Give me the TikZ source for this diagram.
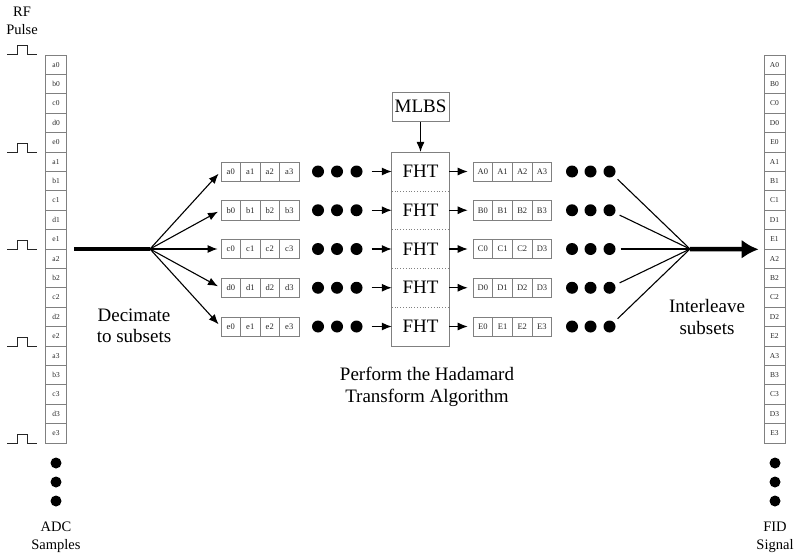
\documentclass[tikz,border=0pt]{standalone}
\usepackage{fontspec}
\setmainfont{Liberation Serif}
\usetikzlibrary{arrows.meta}
\begin{document}
\begin{tikzpicture}[x=1pt,y=-1pt,
  cell/.style={draw=black!50, line width=0.7pt, minimum width=21pt, minimum height=19.4pt, inner sep=0pt, text=black!85, font=\fontsize{7.5}{8}\selectfont},
  rcell/.style={draw=black!50, line width=0.7pt, minimum width=19.6pt, minimum height=19.2pt, inner sep=0pt, text=black!85, font=\fontsize{8.5}{9}\selectfont},
  lbl/.style={align=center, inner sep=0pt},
  bigtxt/.style={font=\fontsize{19}{21.5}\selectfont},
  smalltxt/.style={font=\fontsize{14.5}{18}\selectfont},
  rowdot/.style={circle, fill=black, inner sep=0pt, minimum size=12pt},
  coldot/.style={circle, fill=black, inner sep=0pt, minimum size=11pt},
  thinarrow/.style={line width=1.1pt, -{Latex[length=10pt,width=8pt]}},
  thinline/.style={line width=1.1pt},
  thickline/.style={line width=4.5pt},
  pulseline/.style={line width=1pt, black!85},
  boxline/.style={draw=black!50, line width=0.8pt},
]
\useasboundingbox (0,0) rectangle (800,559);

% left column (ADC samples)
\foreach \t [count=\i from 0] in {a0,b0,c0,d0,e0,a1,b1,c1,d1,e1,a2,b2,c2,d2,e2,a3,b3,c3,d3,e3}
  \node[cell] (adc\i) at (56, {55+19.4*(\i+0.5)}) {\t};
% right column (FID signal)
\foreach \t [count=\i from 0] in {A0,B0,C0,D0,E0,A1,B1,C1,D1,E1,A2,B2,C2,D2,E2,A3,B3,C3,D3,E3}
  \node[cell] (fid\i) at (774.5, {55+19.4*(\i+0.5)}) {\t};

% RF pulses
\foreach \k in {0,...,4}
  \draw[pulseline] (7,{55+97*\k}) -- ++(10,0) -- ++(0,-9) -- ++(10,0) -- ++(0,9) -- ++(10,0);

% vertical dots
\foreach \k/\y in {1/463,2/482,3/501} {
  \node[coldot] (adcdot\k) at (56,\y) {};
  \node[coldot] (fiddot\k) at (775,\y) {};
}

% labels
\node[lbl, smalltxt] (rflbl) at (22,21) {RF\\Pulse};
\node[lbl, smalltxt] (adclbl) at (56,537) {ADC\\Samples};
\node[lbl, smalltxt] (fidlbl) at (775,537) {FID\\Signal};
\node[lbl, bigtxt] (declbl) at (134,326) {Decimate\\to subsets};
\node[lbl, bigtxt] (intlbl) at (707,317) {Interleave\\subsets};
\node[lbl, bigtxt] (perflbl) at (427,387) {Perform the Hadamard\\Transform Algorithm};

% rows
\foreach \r/\p in {0/a,1/b,2/c,3/d,4/e} {
  \foreach \j in {0,...,3}
    \node[rcell] (L\r-\j) at ({221+19.5*(\j+0.5)}, {171.5+38.75*\r}) {\p\j};
}
\foreach \r/\labs in {0/{A0,A1,A2,A3},1/{B0,B1,B2,B3},2/{C0,C1,C2,D3},3/{D0,D1,D2,D3},4/{E0,E1,E2,E3}} {
  \foreach \t [count=\j from 0] in \labs
    \node[rcell] (R\r-\j) at ({473+19.7*(\j+0.5)}, {171.5+38.75*\r}) {\t};
}
\foreach \r in {0,...,4} {
  \foreach \j/\x in {1/318,2/337,3/356.5}
    \node[rowdot] (ld\r-\j) at (\x, {171.5+38.75*\r}) {};
  \foreach \j/\x in {1/572,2/590.5,3/609.5}
    \node[rowdot] (rd\r-\j) at (\x, {171.5+38.75*\r}) {};
  \node[bigtxt, minimum width=57pt, minimum height=38.75pt, inner sep=0pt] (F\r) at (420.5, {171.5+38.75*\r}) {FHT};
}

% FHT stack frame
\draw[boxline] (F0.north west) rectangle (F4.south east);
\foreach \r in {0,...,3}
  \draw[black!50, line width=0.8pt, dotted] (F\r.south west) -- (F\r.south east);

% MLBS
\node[boxline, bigtxt, minimum width=57pt, minimum height=29pt, inner sep=0pt] (mlbs) at (420.5,106.7) {MLBS};
\draw[thinarrow] (mlbs) -- (F0);

% arrows in rows
\foreach \r in {0,...,4} {
  \draw[thinarrow, shorten <=9pt] (ld\r-3) -- (F\r);
  \draw[thinarrow, shorten >=5pt] (F\r) -- (R\r-0);
}

% left fan
\coordinate (inL) at (74,249);
\coordinate (fanL) at (150,249);
\draw[thickline] (inL) -- (fanL);
\foreach \r in {0,...,4}
  \draw[thinarrow, shorten >=3pt] (fanL) -- (L\r-0.west);

% right fan
\coordinate (fanR) at (690,249);
\foreach \r in {0,...,4}
  \draw[thinline, shorten <=5pt] (rd\r-3) -- (fanR);
\draw[thickline, shorten >=5pt, -{Latex[length=17pt,width=19pt]}] (fanR) -- (fid9.south west);
\end{tikzpicture}
\end{document}
